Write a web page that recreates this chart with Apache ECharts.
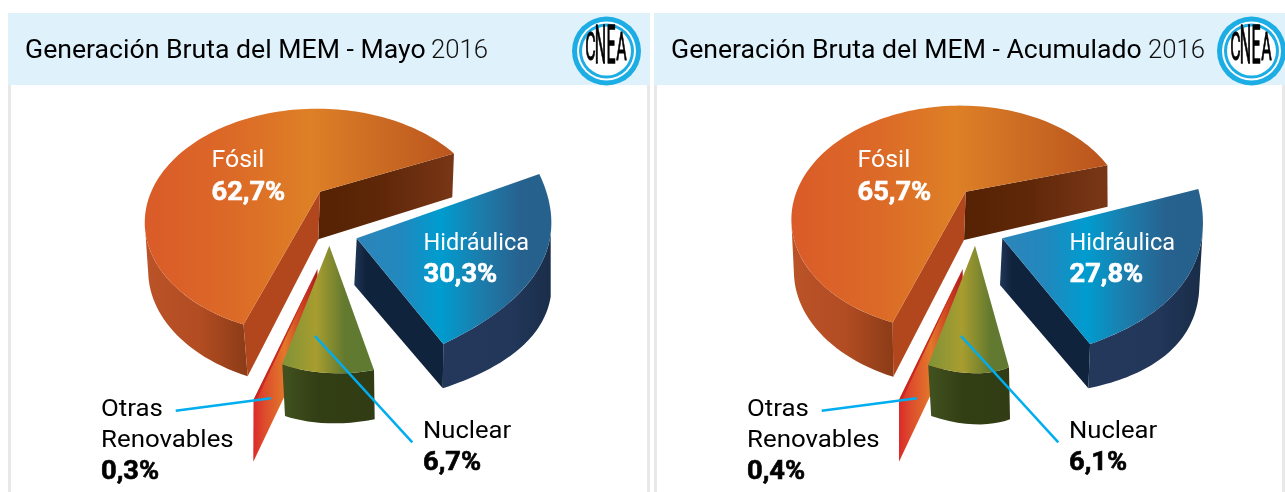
<!DOCTYPE html>
<html><head><meta charset="utf-8">
<style>html,body{margin:0;padding:0;background:#fff}#c{width:1285px;height:492px}</style>
<script src="https://cdn.jsdelivr.net/npm/echarts@6/dist/echarts.min.js"></script>
</head><body><div id="c"></div>
<script>
// ---- data ----
const categories = ['Fósil', 'Hidráulica', 'Otras Renovables', 'Nuclear'];
const valuesMayo = [62.7, 30.3, 0.3, 6.7];
const valuesAcumulado = [65.7, 27.8, 0.4, 6.1];
const titles = ['Generación Bruta del MEM - Mayo', 'Generación Bruta del MEM - Acumulado'];
const titleYear = '2016';

// ---- drawing calibration (perspective of each wedge) ----
const FONT = 'Roboto, sans-serif';
const BLUE = '#00aeef';
function grad(x0, x1, stops) {
  const s = stops.map(p => ({ offset: (p[0] - x0) / (x1 - x0), color: p[1] }));
  return new echarts.graphic.LinearGradient(x0, 0, x1, 0, s, true);
}
function solve(A, b) {
  const n = b.length, M = A.map((r, i) => r.concat(b[i]));
  for (let i = 0; i < n; i++) {
    let p = i; for (let r = i + 1; r < n; r++) if (Math.abs(M[r][i]) > Math.abs(M[p][i])) p = r;
    [M[i], M[p]] = [M[p], M[i]];
    for (let r = 0; r < n; r++) if (r !== i) {
      const f = M[r][i] / M[i][i];
      for (let c = i; c <= n; c++) M[r][c] -= f * M[i][c];
    }
  }
  return M.map((r, i) => r[n] / r[i]);
}
// homography: ground-plane unit circle -> screen, from apex + three rim anchors
function perspective(o, rim, angles) {
  const src = [[0, 0]].concat(angles.map(t => [Math.cos(t * Math.PI / 180), Math.sin(t * Math.PI / 180)]));
  const dst = [o].concat(rim), A = [], b = [];
  src.forEach((s, i) => {
    const d = dst[i];
    A.push([s[0], s[1], 1, 0, 0, 0, -s[0] * d[0], -s[1] * d[0]]); b.push(d[0]);
    A.push([0, 0, 0, s[0], s[1], 1, -s[0] * d[1], -s[1] * d[1]]); b.push(d[1]);
  });
  const h = solve(A, b);
  return t => {
    const u = Math.cos(t * Math.PI / 180), v = Math.sin(t * Math.PI / 180), w = h[6] * u + h[7] * v + 1;
    return [(h[0] * u + h[1] * v + h[2]) / w, (h[3] * u + h[4] * v + h[5]) / w];
  };
}
// tilted disc seen in perspective: a0 = screen angle of the wedge start
function tilted(o, c) {
  return t => {
    const a = (c.a0 + t * (c.stretch || 1)) * Math.PI / 180, u = c.r * Math.cos(a), v = c.r * Math.sin(a), w = 1 - c.p * v + c.q * u;
    return [o[0] + c.R * u / w, o[1] + c.k * v / w];
  };
}
function affine(o, a, e) {
  return t => {
    const u = Math.cos(t * Math.PI / 180), v = Math.sin(t * Math.PI / 180);
    return [o[0] + u * (a[0] - o[0]) + v * e[0], o[1] + u * (a[1] - o[1]) + v * e[1]];
  };
}
function wedgeStyles(dx) {
  const g = (x0, x1, st) => grad(x0 + dx, x1 + dx, st.map(p => [p[0] + dx, p[1]]));
  return {
    fosil: {
      top: g(145, 453, [[145, '#da5b29'], [235, '#dc6a27'], [310, '#de8026'], [370, '#cd6e24'], [453, '#bc561e']]),
      wall: g(145, 247, [[145, '#bb5328'], [200, '#b24c22'], [247, '#8b3c17']]),
      startFace: '#b2471d',
      endFace: g(318, 453, [[318, '#562204'], [380, '#5e2708'], [453, '#783616']])
    },
    hidro: {
      top: g(357, 551, [[357, '#2e85ba'], [400, '#2188bd'], [440, '#009ccf'], [480, '#1c7dac'], [520, '#27628f'], [551, '#26608c']]),
      wall: g(443, 551, [[443, '#23385b'], [510, '#22375a'], [551, '#1a2e4a']]),
      endFace: g(354, 443, [[354, '#213759'], [366, '#10233c'], [443, '#10233c']])
    },
    otras: {
      top: '#c8281f',
      startFace: g(253, 318, [[253, '#dc2a2a'], [265, '#dd4d2c'], [285, '#e2782a'], [303, '#cc3e20'], [318, '#ad1a1c']])
    },
    nuclear: {
      top: g(282, 374, [[282, '#7f9238'], [316, '#a89d2f'], [345, '#62792f'], [374, '#5f7a33']]),
      wall: g(282, 375, [[282, '#42521f'], [318, '#323e14'], [375, '#313c14']])
    }
  };
}
const st0 = wedgeStyles(0), st1 = wedgeStyles(646);
const DISC_TOP = { R: 168, k: 106.7, p: 0.27, q: 0.02, r: 0.985, a0: 110.1 };
const DISC_BOT = { R: 162, k: 105, p: 0.27, q: -0.01, r: 1.02, a0: 108.5 };
const DISC_TOP_R = { R: 165, k: 108, p: 0.24, q: 0.04, r: 0.985, a0: 110.1, stretch: 0.989 };
const DISC_BOT_R = Object.assign({}, DISC_BOT, { stretch: 0.98 });
const GEOMETRY = [
  [
    { key: 'fosil', o: [320, 191.7], o2: [318.3, 239.3], disc: DISC_TOP, disc2: DISC_BOT, wall: [0, 54.2], faces: true },
    { key: 'hidro', o: [356.7, 238.3], o2: [354.3, 285], angles: [0, 109.1, 32],
      rim: [[539.3, 174], [443.3, 344], [550.7, 233.3]], rim2: [[540, 235], [442.7, 388.3], [550.7, 296.7]], wall: [32, 109.1], endOnly: true },
    { key: 'otras', flat: true, o: [317.5, 269], o2: [317.5, 327], a: [253.5, 400], a2: [253.3, 461.7], e: [160, 0] },
    { key: 'nuclear', o: [329.3, 245.7], o2: [329.3, 300], angles: [0, 24.1, 12.5],
      rim: [[374, 370], [282.3, 364.3], [323, 372.7]], rim2: [[374.7, 419.3], [285, 416], [323, 423]], wall: [0, 24.1] }
  ],
  [
    { key: 'fosil', o: [965.7, 191.7], o2: [964, 240], disc: DISC_TOP_R, disc2: DISC_BOT_R, wall: [0, 54.2], faces: true },
    { key: 'hidro', o: [1002.3, 238.3], o2: [1000, 285], angles: [0, 100.1, 18],
      rim: [[1198.3, 189], [1090, 344], [1202.7, 230]], rim2: [[1195, 250], [1088.3, 388.3], [1199, 293]], wall: [18, 100.1], endOnly: true },
    { key: 'otras', flat: true, o: [962.7, 269], o2: [962.7, 327], a: [899, 400], a2: [899, 461.7], e: [120, 0] },
    { key: 'nuclear', o: [975, 245.7], o2: [975, 300], angles: [0, 22, 12],
      rim: [[1009, 367.3], [928, 365], [973.3, 373.3]], rim2: [[1010, 419.3], [931, 416], [973.3, 424.3]], wall: [0, 22] }
  ]
];
// labels: x, baseline of first line, line height, horizontal text fit
const LABELS = [
  { x: 211.5, y: 169.5, color: '#fff', lh: 32.5, sx: 1.06, vx: 1.09 },
  { x: 423.5, y: 252, color: '#fff', lh: 32, sx: 1.0, vx: 1.09 },
  { x: 101, y: 418, color: '#000', lh: 31.5, sx: 1.10, vx: 1.09 },
  { x: 423, y: 440, color: '#000', lh: 32.5, sx: 1.09, vx: 1.09 }
];
const LEADERS = { 2: [[175.7, 410.7], [271, 398.3]], 3: [[315, 336], [412.3, 442.3]] };
const NAME_SIZE = 23.5, VALUE_SIZE = 25;

function arc(f, a, b) {
  const n = Math.max(2, Math.ceil(Math.abs(b - a) / 2)), out = [];
  for (let i = 0; i <= n; i++) out.push(f(a + (b - a) * i / n));
  return out;
}
function poly(points, fill, z2) { return { type: 'polygon', z2, shape: { points }, style: { fill, stroke: null } }; }
function textEl(text, x, base, size, weight, fill, sx) {
  const style = { text, fill, font: weight + ' ' + size + 'px ' + FONT, textAlign: 'left', textVerticalAlign: 'middle', verticalAlign: 'middle' };
  if (weight >= 700) { style.stroke = fill; style.lineWidth = 0.6; }
  return { type: 'text', z2: 60, x, y: base - 0.35 * size, scaleX: sx, scaleY: 1, style };
}
function renderWedge(params, api) {
  const panel = params.seriesIndex, i = params.dataIndex, value = api.value(0), sweep = value * 3.6;
  const g = GEOMETRY[panel][i], st = (panel ? st1 : st0)[g.key], dx = panel ? 646 : 0, kids = [], base = i * 10;
  if (g.flat) {
    const top = affine(g.o, g.a, g.e);
    kids.push(poly([g.o, g.a, g.a2, g.o2], st.startFace, base + 1));
    kids.push(poly([g.o].concat(arc(top, 0, sweep)), st.top, base + 2));
  } else {
    const top = g.disc ? tilted(g.o, g.disc) : perspective(g.o, g.rim, g.angles);
    const bot = g.disc2 ? tilted(g.o2, g.disc2) : perspective(g.o2, g.rim2, g.angles);
    const w0 = g.wall[0], w1 = Math.min(g.wall[1], sweep);
    const a = arc(top, w0, w1), b = arc(bot, w0, w1).reverse();
    kids.push(poly(a.concat(b), st.wall, base + 1));
    if (g.faces) {
      kids.push(poly([g.o, top(sweep), bot(sweep), g.o2], st.endFace, base + 2));
      kids.push(poly([g.o, top(0), bot(0), g.o2], st.startFace, base + 3));
    }
    if (g.endOnly) kids.push(poly([g.o, top(sweep), bot(sweep), g.o2], st.endFace, base + 2));
    kids.push(poly([g.o].concat(arc(top, 0, sweep)), st.top, base + 4));
  }
  const L = LABELS[i], words = i === 2 ? categories[i].split(' ') : [categories[i]];
  const line = LEADERS[i];
  if (line) kids.push({ type: 'line', z2: 55, shape: { x1: line[0][0] + dx, y1: line[0][1], x2: line[1][0] + dx, y2: line[1][1] }, style: { stroke: BLUE, lineWidth: 2.5 } });
  words.forEach((w, k) => kids.push(textEl(w, L.x + dx, L.y + k * L.lh, NAME_SIZE, 400, L.color, L.sx)));
  const vt = value.toFixed(1).replace('.', ',') + '%';
  kids.push(textEl(vt, L.x + dx, L.y + words.length * L.lh, VALUE_SIZE, 700, L.color, L.vx));
  return { type: 'group', children: kids };
}
function logo(cx, cy) {
  const c = (r, fill) => ({ type: 'circle', shape: { cx, cy, r }, style: { fill } });
  const letter = (ch, dx, h) => ({ type: 'text', x: cx + dx, y: cy - 1, scaleX: 0.8, scaleY: h / 14.4,
    style: { text: ch, fill: '#000', stroke: '#000', lineWidth: 0.5, font: '400 20px "Liberation Sans Narrow", Roboto, sans-serif', textAlign: 'center', textVerticalAlign: 'middle', verticalAlign: 'middle' } });
  return [c(34.5, '#1cade4'), c(29.5, '#ffffff'), c(27.5, '#1cade4'), c(24.5, '#ffffff'),
    letter('C', -16, 28), letter('N', -6, 38), letter('E', 4.5, 38), letter('A', 15, 28)];
}
function panelGraphics(x0, x1, title, tx, yearX, logoX) {
  const r = (x, y, w, h, fill) => ({ type: 'rect', shape: { x, y, width: w, height: h }, style: { fill } });
  const t = (text, x, w, fill, sx) => ({ type: 'text', x, y: 51.5, scaleX: sx, style: { text, fill, font: w + ' 25px ' + FONT, textVerticalAlign: 'middle', verticalAlign: 'middle' } });
  return [
    r(x0, 85, 3, 407, '#e8e8e8'), r(x1 - 3, 85, 3, 407, '#e8e8e8'),
    r(x0, 13, x1 - x0, 72, '#dff1fb'),
    t(title, tx, 400, '#000', 1.065), t(titleYear, yearX, 300, '#111', 1.03)
  ].concat(logo(logoX, 51));
}
const chart = echarts.init(document.getElementById('c'), null, { renderer: 'canvas' });
chart.setOption({
  animation: false,
  backgroundColor: '#fff',
  graphic: { elements: panelGraphics(8, 650, titles[0], 25, 431, 606.5).concat(panelGraphics(654, 1285, titles[1], 671, 1148, 1251.5)) },
  series: [valuesMayo, valuesAcumulado].map((vals, s) => ({
    type: 'custom', coordinateSystem: 'none', silent: true, name: titles[s],
    renderItem: renderWedge,
    data: vals.map((v, i) => ({ name: categories[i], value: [v] }))
  }))
});
</script></body></html>
